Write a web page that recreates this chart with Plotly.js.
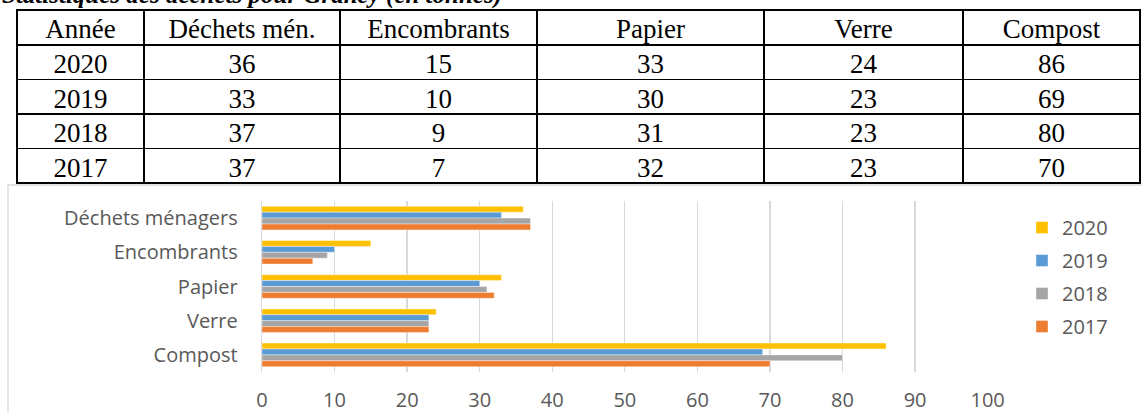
<!DOCTYPE html>
<html>
<head>
<meta charset="utf-8">
<script src="https://cdn.plot.ly/plotly-3.0.1.min.js"></script>
<style>
  html, body { margin: 0; padding: 0; background: #ffffff; }
  #chart { width: 1142px; height: 412px; }
</style>
</head>
<body>
<div id="chart"></div>
<script>
// ---- data ----
const categories = ['Déchets ménagers', 'Encombrants', 'Papier', 'Verre', 'Compost'];
const tableHeaders = ['Année', 'Déchets mén.', 'Encombrants', 'Papier', 'Verre', 'Compost'];
const years = ['2020', '2019', '2018', '2017'];
const v2020 = [36, 15, 33, 24, 86];
const v2019 = [33, 10, 30, 23, 69];
const v2018 = [37, 9, 31, 23, 80];
const v2017 = [37, 7, 32, 23, 70];
const xTicks = [0, 10, 20, 30, 40, 50, 60, 70, 80, 90, 100];
const titleText = 'Statistiques des déchets pour Grancy (en tonnes)';

const series = [v2020, v2019, v2018, v2017];
const colors = ['#FFC000', '#5B9BD5', '#A5A5A5', '#ED7D31'];

const W = 1142, H = 412;
const px = (x) => x / W;
const py = (y) => 1 - y / H;

// table columns built from series
const tableCols = [years];
for (let j = 0; j < categories.length; j++) {
  tableCols.push(series.map(s => s[j]));
}

const tableFont = { family: 'Liberation Serif', size: 27, color: '#000000' };

const traces = [];
traces.push({
  type: 'table',
  domain: { x: [px(17), px(1140)], y: [py(184), py(10)] },
  columnwidth: [127, 196, 197, 227, 199, 177],
  header: {
    values: tableHeaders,
    align: 'center',
    height: 35,
    line: { color: '#000000', width: 1.5 },
    fill: { color: '#ffffff' },
    font: tableFont
  },
  cells: {
    values: tableCols,
    align: 'center',
    height: 34.5,
    line: { color: '#000000', width: 1.5 },
    fill: { color: '#ffffff' },
    font: tableFont
  },
  hoverinfo: 'skip'
});

years.forEach((yr, i) => {
  traces.push({
    type: 'bar',
    orientation: 'h',
    name: yr,
    y: categories,
    x: series[i],
    marker: { color: colors[i], line: { color: '#ffffff', width: 0.4 } },
    legendgroup: 'g' + yr,
    xaxis: 'x',
    yaxis: 'y'
  });
});

const labelFont = { family: 'Open Sans', size: 20, color: '#595959' };

const layout = {
  width: W,
  height: H,
  margin: { l: 0, r: 0, t: 0, b: 0 },
  paper_bgcolor: '#ffffff',
  plot_bgcolor: '#ffffff',
  barmode: 'group',
  bargap: 0.31,
  bargroupgap: 0,
  showlegend: true,
  legend: {
    x: px(1022), y: py(208), xanchor: 'left', yanchor: 'top',
    font: labelFont,
    traceorder: 'grouped',
    tracegroupgap: 4,
    bgcolor: 'rgba(0,0,0,0)'
  },
  xaxis: {
    domain: [px(262), px(988)],
    range: [0, 100.05],
    tickvals: xTicks,
    ticktext: xTicks.map(String),
    showgrid: true,
    gridcolor: '#D9D9D9',
    gridwidth: 1.3,
    zeroline: false,
    showline: false,
    ticks: 'outside',
    ticklen: 10,
    tickcolor: 'rgba(0,0,0,0)',
    tickfont: labelFont,
    fixedrange: true
  },
  yaxis: {
    domain: [py(372), py(201)],
    autorange: 'reversed',
    showgrid: false,
    zeroline: false,
    showline: true,
    linecolor: '#D9D9D9',
    linewidth: 1.3,
    ticks: 'outside',
    ticklen: 19,
    tickcolor: 'rgba(0,0,0,0)',
    tickfont: labelFont,
    fixedrange: true
  },
  shapes: [{
    type: 'rect', xref: 'paper', yref: 'paper',
    x0: px(8), x1: px(1150), y0: py(420), y1: py(185),
    line: { color: '#D9D9D9', width: 1.3 },
    fillcolor: 'rgba(0,0,0,0)', layer: 'below'
  }],
  annotations: [{
    text: '<b><i>' + titleText + '</i></b>',
    xref: 'paper', yref: 'paper',
    x: 0, y: py(11), xanchor: 'left', yanchor: 'bottom',
    showarrow: false,
    font: { family: 'Liberation Serif', size: 25, color: '#000000' }
  }]
};

Plotly.newPlot('chart', traces, layout, { displayModeBar: false, staticPlot: true });
</script>
</body>
</html>
